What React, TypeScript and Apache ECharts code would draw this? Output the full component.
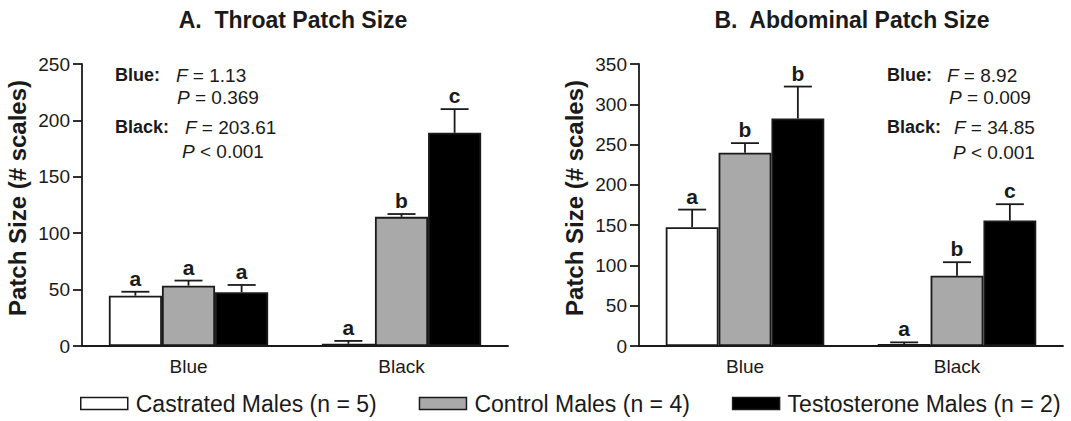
import React, { useEffect, useRef } from "react";
import * as echarts from "echarts";

const FONT = "Liberation Sans, Arial, Helvetica, sans-serif";
const INK = "#1a1a1a";
const GRAY = "#a9a9a9";

const categories = ["Blue", "Black"];
const groupNames = ["Castrated Males (n = 5)", "Control Males (n = 4)", "Testosterone Males (n = 2)"];
const groupColors = ["#ffffff", GRAY, "#000000"];

// Panel A: throat patch size (means, SE, letters)
const throatCastrated = [44.6, 2];
const throatControl = [53.5, 114.5];
const throatTestosterone = [47.6, 189];
const throatCastratedSE = [3.5, 2.5];
const throatControlSE = [4.5, 2.5];
const throatTestosteroneSE = [6.5, 21];
const throatCastratedLetters = ["a", "a"];
const throatControlLetters = ["a", "b"];
const throatTestosteroneLetters = ["a", "c"];

// Panel B: abdominal patch size
const abdCastrated = [147.5, 2.5];
const abdControl = [239.8, 87.3];
const abdTestosterone = [282.4, 155.7];
const abdCastratedSE = [21.8, 2];
const abdControlSE = [12, 16.7];
const abdTestosteroneSE = [39.6, 20.3];
const abdCastratedLetters = ["a", "a"];
const abdControlLetters = ["b", "b"];
const abdTestosteroneLetters = ["b", "c"];

const throatTicks = { min: 0, max: 250, interval: 50 };
const abdTicks = { min: 0, max: 350, interval: 50 };

const CAT_GAP = 0.252;

function barSeries(name: string, color: string, data: number[], axis: number) {
  return {
    type: "bar",
    name,
    xAxisIndex: axis,
    yAxisIndex: axis,
    data,
    barGap: "0%",
    barCategoryGap: CAT_GAP * 100 + "%",
    itemStyle: { color, borderColor: INK, borderWidth: 1.8 },
    emphasis: { disabled: true },
  };
}

function errSeries(k: number, values: number[], se: number[], letters: string[], axis: number) {
  return {
    type: "custom",
    xAxisIndex: axis,
    yAxisIndex: axis,
    z: 5,
    data: values.map((v, i) => [i, v, se[i]]),
    encode: { x: 0, y: 1 },
    renderItem: (params: any, api: any) => {
      const i = api.value(0);
      const v = api.value(1);
      const s = api.value(2);
      const band = api.size([1, 0])[0];
      const bw = (band * (1 - CAT_GAP)) / 3;
      const p0 = api.coord([i, v]);
      const p1 = api.coord([i, v + s]);
      const x = p0[0] + (k - 1) * bw;
      const half = 14;
      return {
        type: "group",
        children: [
          {
            type: "line",
            shape: { x1: x, y1: p0[1], x2: x, y2: p1[1] },
            style: { stroke: INK, lineWidth: 1.8 },
          },
          {
            type: "line",
            shape: { x1: x - half, y1: p1[1], x2: x + half, y2: p1[1] },
            style: { stroke: INK, lineWidth: 1.8 },
          },
          {
            type: "text",
            x,
            y: p1[1] - 3,
            style: {
              text: letters[params.dataIndex],
              fill: INK,
              font: `bold 21px ${FONT}`,
              align: "center",
              verticalAlign: "bottom",
            },
          },
        ],
      };
    },
  };
}

function yAxisCfg(grid: number, t: { min: number; max: number; interval: number }) {
  return {
    type: "value",
    gridIndex: grid,
    min: t.min,
    max: t.max,
    interval: t.interval,
    name: "Patch Size (# scales)",
    nameLocation: "middle",
    nameGap: 53,
    nameTextStyle: { fontFamily: FONT, fontSize: 24, fontWeight: "bold", color: INK, padding: [0, 0, 0, 14] },
    axisLine: { show: true, lineStyle: { color: INK, width: 1.8 } },
    axisTick: { show: true, length: 9, lineStyle: { color: INK, width: 1.8 } },
    axisLabel: { fontFamily: FONT, fontSize: 19, color: INK, margin: 12 },
    splitLine: { show: false },
  };
}

function xAxisCfg(grid: number) {
  return {
    type: "category",
    gridIndex: grid,
    data: categories,
    axisLine: { show: true, lineStyle: { color: INK, width: 1.8 } },
    axisTick: { show: false },
    axisLabel: { fontFamily: FONT, fontSize: 19, color: INK, margin: 11 },
  };
}

function statText(x: number, y: number, bold: string | null, italic: string, rest: string) {
  if (bold) {
    return {
      type: "text",
      x,
      y,
      style: {
        text: bold,
        font: `bold 18px ${FONT}`,
        fill: INK,
        verticalAlign: "middle",
      },
    };
  }
  return {
    type: "text",
    x,
    y,
    style: {
      text: `{i|${italic}}{n|${rest}}`,
      fill: INK,
      verticalAlign: "middle",
      font: `19px ${FONT}`,
      rich: {
        i: { fontStyle: "italic", fontSize: 19, fontFamily: FONT, fill: INK },
        n: { fontSize: 19, fontFamily: FONT, fill: INK },
      },
    },
  };
}

export default function App() {
  const ref = useRef<HTMLDivElement>(null);
  useEffect(() => {
    if (!ref.current) return;
    const chart = echarts.init(ref.current, null, { renderer: "svg" });
    chart.setOption({
      animation: false,
      backgroundColor: "#ffffff",
      grid: [
        { left: 82, top: 64, width: 426, height: 282 },
        { left: 639, top: 64, width: 424, height: 282 },
      ],
      xAxis: [xAxisCfg(0), xAxisCfg(1)],
      yAxis: [yAxisCfg(0, throatTicks), yAxisCfg(1, abdTicks)],
      legend: {
        left: 80,
        top: 392,
        padding: 0,
        width: 990,
        itemWidth: 47,
        itemHeight: 12,
        itemGap: 42,
        icon: "rect",
        textStyle: { fontFamily: FONT, fontSize: 23, color: INK, padding: [0, 0, 0, 3] },
        data: groupNames.map((n, i) => ({
          name: n,
          itemStyle: { color: groupColors[i], borderColor: INK, borderWidth: 1.5 },
        })),
        selectedMode: false,
      },
      graphic: [
        {
          type: "text",
          x: 293,
          y: 20,
          style: {
            text: "A.  Throat Patch Size",
            font: `bold 23px ${FONT}`,
            fill: INK,
            align: "center",
            verticalAlign: "middle",
          },
        },
        {
          type: "text",
          x: 852,
          y: 20,
          style: {
            text: "B.  Abdominal Patch Size",
            font: `bold 23px ${FONT}`,
            fill: INK,
            align: "center",
            verticalAlign: "middle",
          },
        },
        statText(115, 75, "Blue:", "", ""),
        statText(176, 75, null, "F", " = 1.13"),
        statText(177, 97, null, "P", " = 0.369"),
        statText(115, 127, "Black:", "", ""),
        statText(185, 127, null, "F", " = 203.61"),
        statText(182, 151, null, "P", " < 0.001"),
        statText(887, 75, "Blue:", "", ""),
        statText(947, 75, null, "F", " = 8.92"),
        statText(949, 97, null, "P", " = 0.009"),
        statText(887, 127, "Black:", "", ""),
        statText(954, 127, null, "F", " = 34.85"),
        statText(953, 152, null, "P", " < 0.001"),
      ],
      series: [
        barSeries(groupNames[0], groupColors[0], throatCastrated, 0),
        barSeries(groupNames[1], groupColors[1], throatControl, 0),
        barSeries(groupNames[2], groupColors[2], throatTestosterone, 0),
        barSeries(groupNames[0], groupColors[0], abdCastrated, 1),
        barSeries(groupNames[1], groupColors[1], abdControl, 1),
        barSeries(groupNames[2], groupColors[2], abdTestosterone, 1),
        errSeries(0, throatCastrated, throatCastratedSE, throatCastratedLetters, 0),
        errSeries(1, throatControl, throatControlSE, throatControlLetters, 0),
        errSeries(2, throatTestosterone, throatTestosteroneSE, throatTestosteroneLetters, 0),
        errSeries(0, abdCastrated, abdCastratedSE, abdCastratedLetters, 1),
        errSeries(1, abdControl, abdControlSE, abdControlLetters, 1),
        errSeries(2, abdTestosterone, abdTestosteroneSE, abdTestosteroneLetters, 1),
      ],
    });
    return () => chart.dispose();
  }, []);
  return (
    <div
      ref={ref}
      style={{ position: "absolute", left: 0, top: 0, width: 1071, height: 421 }}
    />
  );
}
